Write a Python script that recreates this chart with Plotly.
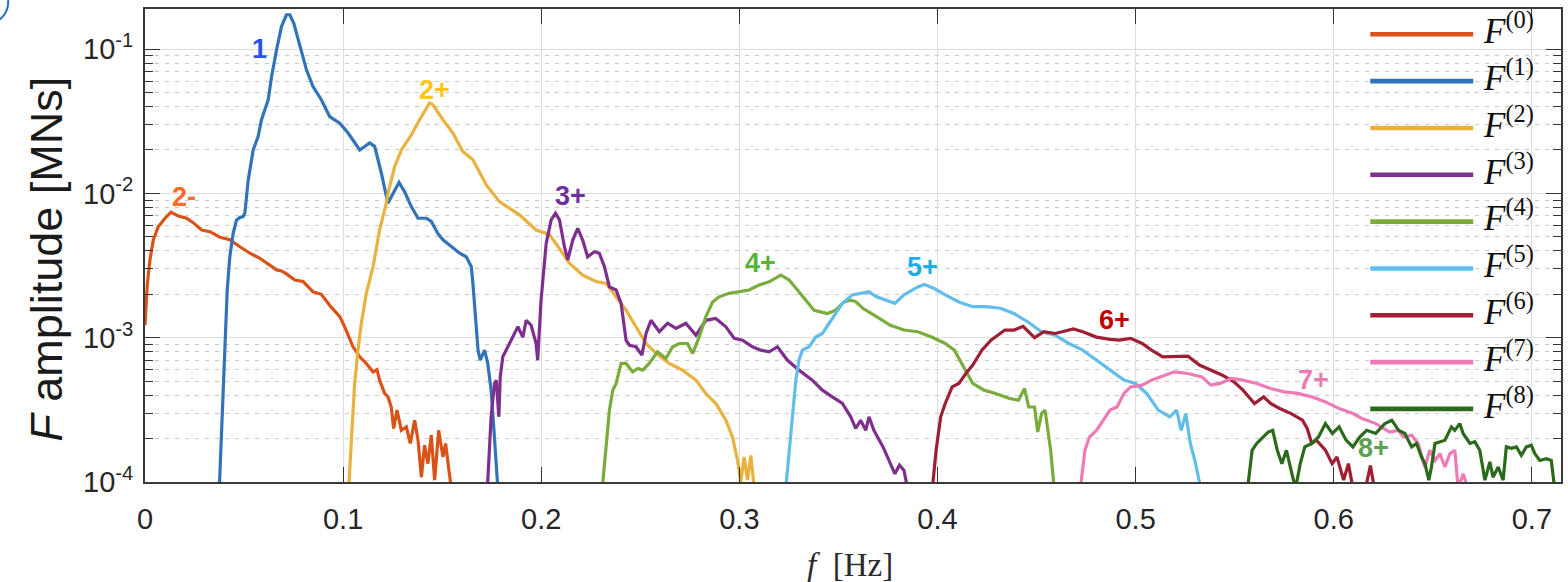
import math
import plotly.graph_objects as go

# Spectral amplitude of each force order F^(k): (frequency [Hz], amplitude [MNs]) pairs
F0_pts = [(0.0, 1.22e-3), (0.0012, 2.38e-3), (0.0025, 3.46e-3), (0.0042, 4.77e-3), (0.0067, 5.88e-3),
          (0.0101, 6.73e-3), (0.0131, 7.41e-3), (0.0168, 6.98e-3), (0.021, 6.73e-3), (0.0243, 6.27e-3),
          (0.0286, 5.58e-3), (0.0328, 5.43e-3), (0.0378, 4.97e-3), (0.0428, 4.77e-3), (0.0479, 4.27e-3),
          (0.0529, 3.85e-3), (0.058, 3.55e-3), (0.063, 3.19e-3), (0.0664, 2.95e-3), (0.0689, 2.9e-3),
          (0.0714, 2.77e-3), (0.0756, 2.51e-3), (0.0798, 2.45e-3), (0.0848, 2.08e-3), (0.089, 2.0e-3),
          (0.0932, 1.68e-3), (0.0983, 1.40e-3), (0.1008, 1.19e-3), (0.105, 8.65e-4), (0.1084, 7.37e-4),
          (0.1117, 6.63e-4), (0.1151, 5.8e-4), (0.1171, 6.0e-4), (0.1184, 5.08e-4), (0.121, 4.1e-4),
          (0.1226, 3.9e-4), (0.1243, 3.31e-4), (0.1255, 2.35e-4), (0.1272, 3.15e-4), (0.1294, 2.28e-4),
          (0.1319, 2.41e-4), (0.1339, 1.85e-4), (0.1361, 2.68e-4), (0.1378, 1.95e-4), (0.1395, 1.08e-4),
          (0.1411, 1.8e-4), (0.1428, 1.34e-4), (0.1445, 2.11e-4), (0.1462, 1.03e-4), (0.1482, 2.28e-4),
          (0.1504, 1.49e-4), (0.1517, 1.85e-4), (0.1546, 9.0e-5)]

F1_pts = [(0.0375, 9e-5), (0.0386, 2.17e-4), (0.0395, 4.82e-4), (0.0403, 1.01e-3), (0.0415, 2.14e-3),
          (0.0428, 3.64e-3), (0.0445, 5.28e-3), (0.0462, 6.55e-3), (0.0479, 6.8e-3), (0.0495, 6.9e-3),
          (0.0504, 7.3e-3), (0.0521, 1.24e-2), (0.0546, 2.0e-2), (0.0571, 2.48e-2), (0.0588, 3.24e-2),
          (0.0622, 4.46e-2), (0.0639, 6.46e-2), (0.0664, 9.9e-2), (0.0689, 0.1435), (0.0714, 0.173),
          (0.0731, 0.173), (0.0751, 0.151), (0.0781, 0.104), (0.0815, 7.18e-2), (0.0848, 5.5e-2),
          (0.089, 4.46e-2), (0.0932, 3.41e-2), (0.0983, 3.07e-2), (0.1025, 2.62e-2), (0.1084, 2.0e-2),
          (0.1134, 2.24e-2), (0.1159, 2.12e-2), (0.1193, 1.38e-2), (0.1226, 8.55e-3), (0.1252, 1.0e-2),
          (0.1282, 1.19e-2), (0.131, 1.03e-2), (0.1344, 8.1e-3), (0.1378, 6.73e-3), (0.142, 6.73e-3),
          (0.1445, 6.4e-3), (0.1478, 5.28e-3), (0.1504, 4.77e-3), (0.1546, 4.27e-3), (0.1588, 3.85e-3),
          (0.1621, 3.64e-3), (0.1647, 3.1e-3), (0.1655, 2.38e-3), (0.1664, 1.55e-3), (0.1681, 8.2e-4),
          (0.1692, 7.0e-4), (0.1714, 8.2e-4), (0.173, 6.63e-4), (0.1747, 4.33e-4), (0.1759, 2.54e-4),
          (0.1772, 1.41e-4), (0.1781, 9e-5)]

F2_pts = [(0.1028, 9e-5), (0.1042, 2.05e-4), (0.1058, 4.82e-4), (0.1075, 8.2e-4), (0.1092, 1.26e-3),
          (0.1117, 2.03e-3), (0.1151, 3.1e-3), (0.1184, 5.58e-3), (0.1218, 8.55e-3), (0.1226, 1.0e-2),
          (0.126, 1.53e-2), (0.1294, 2.0e-2), (0.1344, 2.54e-2), (0.1386, 3.24e-2), (0.1436, 4.23e-2),
          (0.1453, 4.12e-2), (0.1504, 3.24e-2), (0.1554, 2.62e-2), (0.1604, 1.95e-2), (0.1655, 1.71e-2),
          (0.1722, 1.15e-2), (0.1789, 8.77e-3), (0.184, 7.9e-3), (0.189, 7.1e-3), (0.1974, 5.58e-3),
          (0.2041, 5.2e-3), (0.2092, 4.14e-3), (0.2142, 3.28e-3), (0.2209, 2.71e-3), (0.2277, 2.45e-3),
          (0.2327, 2.38e-3), (0.2377, 1.92e-3), (0.2428, 1.55e-3), (0.2478, 1.19e-3), (0.2529, 9.14e-4),
          (0.2579, 7.8e-4), (0.2646, 6.63e-4), (0.2713, 5.95e-4), (0.2781, 5.08e-4), (0.2831, 4.1e-4),
          (0.2881, 3.5e-4), (0.2932, 2.68e-4), (0.2965, 2.05e-4), (0.2991, 1.41e-4), (0.3007, 1.0e-4),
          (0.3024, 1.49e-4), (0.3041, 1.03e-4), (0.3058, 1.53e-4), (0.3075, 9e-5)]

F3_pts = [(0.1728, 9e-5), (0.1747, 2.83e-4), (0.1764, 4.82e-4), (0.1773, 5.08e-4), (0.1786, 2.83e-4),
          (0.1793, 5.35e-4), (0.1806, 7.37e-4), (0.1831, 8.65e-4), (0.1856, 1.01e-3), (0.1882, 1.19e-3),
          (0.1907, 1.01e-3), (0.1924, 1.32e-3), (0.1949, 1.22e-3), (0.1974, 9.12e-4), (0.1982, 7.0e-4),
          (0.1999, 1.82e-3), (0.2025, 4.51e-3), (0.205, 6.55e-3), (0.2072, 7.29e-3), (0.2092, 6.55e-3),
          (0.2117, 4.27e-3), (0.2134, 3.46e-3), (0.2159, 4.75e-3), (0.2184, 5.73e-3), (0.2209, 4.75e-3),
          (0.2234, 3.64e-3), (0.2268, 3.94e-3), (0.2293, 3.85e-3), (0.2319, 3.1e-3), (0.2344, 2.25e-3),
          (0.2378, 2.14e-3), (0.2403, 1.73e-3), (0.2428, 9.62e-4), (0.2445, 8.87e-4), (0.2478, 8.65e-4),
          (0.2508, 7.57e-4), (0.2529, 1.07e-3), (0.2554, 1.32e-3), (0.2596, 1.1e-3), (0.2638, 1.26e-3),
          (0.268, 1.16e-3), (0.273, 1.26e-3), (0.2781, 1.04e-3), (0.2831, 1.32e-3), (0.2881, 1.36e-3),
          (0.2932, 1.19e-3), (0.2974, 9.89e-4), (0.3016, 9.62e-4), (0.3066, 8.65e-4), (0.3108, 8.2e-4),
          (0.315, 7.98e-4), (0.3192, 8.65e-4), (0.3242, 7.0e-4), (0.3301, 5.96e-4), (0.3368, 5.08e-4),
          (0.3419, 4.33e-4), (0.3469, 3.89e-4), (0.352, 3.5e-4), (0.3562, 2.83e-4), (0.3587, 2.35e-4),
          (0.3612, 2.68e-4), (0.3638, 2.28e-4), (0.3654, 2.83e-4), (0.3679, 2.28e-4), (0.3725, 1.75e-4),
          (0.376, 1.34e-4), (0.3785, 1.14e-4), (0.3808, 1.31e-4), (0.3831, 1.2e-4), (0.3849, 9e-5)]

F4_pts = [(0.2308, 9e-5), (0.2327, 1.85e-4), (0.2344, 3.15e-4), (0.2361, 4.33e-4), (0.2378, 4.82e-4),
          (0.2403, 6.63e-4), (0.2428, 6.63e-4), (0.2461, 5.8e-4), (0.2487, 6.12e-4), (0.2512, 5.96e-4),
          (0.2545, 6.63e-4), (0.2587, 7.98e-4), (0.2629, 7.18e-4), (0.2663, 8.65e-4), (0.2697, 9.12e-4),
          (0.2738, 9.12e-4), (0.2764, 7.78e-4), (0.2797, 1.01e-3), (0.2831, 1.4e-3), (0.2865, 1.77e-3),
          (0.2898, 1.92e-3), (0.2948, 2.03e-3), (0.2999, 2.08e-3), (0.3049, 2.14e-3), (0.31, 2.32e-3),
          (0.315, 2.44e-3), (0.3209, 2.72e-3), (0.3251, 2.51e-3), (0.3293, 2.14e-3), (0.3335, 1.82e-3),
          (0.3377, 1.55e-3), (0.3444, 1.47e-3), (0.3486, 1.55e-3), (0.3528, 1.77e-3), (0.3562, 1.82e-3),
          (0.3587, 1.78e-3), (0.3623, 1.6e-3), (0.3692, 1.4e-3), (0.3762, 1.22e-3), (0.3831, 1.13e-3),
          (0.39, 1.1e-3), (0.397, 1.01e-3), (0.4039, 9.12e-4), (0.4085, 8.2e-4), (0.4132, 6.28e-4),
          (0.4178, 4.82e-4), (0.4235, 4.33e-4), (0.4293, 4.11e-4), (0.4363, 3.79e-4), (0.4409, 3.69e-4),
          (0.4439, 4.45e-4), (0.446, 3.31e-4), (0.449, 3.31e-4), (0.4506, 2.22e-4), (0.4525, 2.98e-4),
          (0.4543, 3.15e-4), (0.4571, 1.66e-4), (0.4589, 9e-5)]

F5_pts = [(0.3234, 9e-5), (0.3251, 1.66e-4), (0.3268, 3.15e-4), (0.3285, 5.08e-4), (0.3301, 7.0e-4),
          (0.3318, 8.2e-4), (0.3352, 8.65e-4), (0.3386, 1.01e-3), (0.3419, 1.07e-3), (0.3453, 1.26e-3),
          (0.3486, 1.47e-3), (0.352, 1.73e-3), (0.357, 1.98e-3), (0.3621, 2.05e-3), (0.3654, 2.08e-3),
          (0.3692, 1.92e-3), (0.3738, 1.82e-3), (0.3785, 1.73e-3), (0.3831, 1.98e-3), (0.39, 2.25e-3),
          (0.3935, 2.34e-3), (0.3981, 2.2e-3), (0.4039, 1.98e-3), (0.4108, 1.77e-3), (0.4178, 1.64e-3),
          (0.4247, 1.64e-3), (0.4317, 1.6e-3), (0.4386, 1.47e-3), (0.4455, 1.29e-3), (0.4525, 1.1e-3),
          (0.4594, 1.04e-3), (0.4663, 9.12e-4), (0.4733, 8.2e-4), (0.4802, 7.0e-4), (0.4871, 5.96e-4),
          (0.4941, 5.08e-4), (0.4999, 4.82e-4), (0.5056, 4.11e-4), (0.5114, 3.15e-4), (0.5172, 2.83e-4),
          (0.5207, 3.15e-4), (0.523, 2.28e-4), (0.5253, 2.98e-4), (0.5276, 1.85e-4), (0.5299, 1.41e-4),
          (0.5329, 9e-5)]

F6_pts = [(0.3974, 9e-5), (0.3993, 1.66e-4), (0.4016, 2.83e-4), (0.4039, 3.5e-4), (0.4074, 4.56e-4),
          (0.4108, 4.82e-4), (0.4143, 5.65e-4), (0.4178, 6.46e-4), (0.4224, 8.2e-4), (0.427, 9.62e-4),
          (0.434, 1.13e-3), (0.4386, 1.13e-3), (0.4432, 1.2e-3), (0.449, 1.0e-3), (0.4537, 1.1e-3),
          (0.4594, 1.07e-3), (0.4686, 1.15e-3), (0.4733, 1.1e-3), (0.4802, 1.01e-3), (0.4871, 9.73e-4),
          (0.4917, 9.62e-4), (0.4975, 9.89e-4), (0.5033, 9.12e-4), (0.508, 8.2e-4), (0.5137, 7.37e-4),
          (0.5195, 7.37e-4), (0.5264, 7.45e-4), (0.5322, 6.46e-4), (0.538, 5.96e-4), (0.5438, 5.5e-4),
          (0.5496, 4.94e-4), (0.5542, 4.33e-4), (0.56, 3.5e-4), (0.5646, 3.89e-4), (0.5681, 3.5e-4),
          (0.5727, 3.23e-4), (0.5785, 2.98e-4), (0.5842, 2.68e-4), (0.5866, 2.35e-4), (0.5889, 1.85e-4),
          (0.5912, 1.95e-4), (0.5958, 1.66e-4), (0.5992, 1.34e-4), (0.6016, 1.49e-4), (0.605, 1.03e-4),
          (0.6074, 1.34e-4), (0.6097, 9e-5), (0.616, 9e-5), (0.6185, 1.3e-4), (0.6205, 9e-5)]

F7_pts = [(0.4721, 9e-5), (0.4744, 1.66e-4), (0.4767, 2.05e-4), (0.4802, 2.28e-4), (0.4837, 2.68e-4),
          (0.4871, 3.15e-4), (0.4906, 3.31e-4), (0.4941, 4.11e-4), (0.4975, 4.56e-4), (0.5033, 4.69e-4),
          (0.508, 5.08e-4), (0.5149, 5.5e-4), (0.5195, 5.8e-4), (0.5264, 5.65e-4), (0.5334, 5.35e-4),
          (0.538, 4.69e-4), (0.5426, 4.82e-4), (0.5484, 5.22e-4), (0.5542, 5.08e-4), (0.5611, 4.82e-4),
          (0.5681, 4.45e-4), (0.575, 4.21e-4), (0.5819, 4.11e-4), (0.5889, 3.89e-4), (0.5958, 3.59e-4),
          (0.6027, 3.23e-4), (0.6097, 2.98e-4), (0.6143, 2.75e-4), (0.6212, 2.54e-4), (0.6282, 2.22e-4),
          (0.6326, 2.28e-4), (0.6351, 2.05e-4), (0.6393, 2.11e-4), (0.6426, 1.85e-4), (0.646, 1.27e-4),
          (0.6485, 1.66e-4), (0.6511, 1.41e-4), (0.6536, 1.57e-4), (0.6561, 1.27e-4), (0.6586, 1.57e-4),
          (0.6611, 1.66e-4), (0.6628, 9e-5), (0.6653, 1.14e-4), (0.6678, 9e-5)]

F8_pts = [(0.5565, 9e-5), (0.5588, 1.66e-4), (0.5611, 1.85e-4), (0.5646, 2.05e-4), (0.5669, 2.22e-4),
          (0.5692, 2.28e-4), (0.5715, 1.66e-4), (0.5738, 1.34e-4), (0.5761, 1.66e-4), (0.5785, 1.2e-4),
          (0.5807, 9e-5), (0.5831, 1.34e-4), (0.5854, 1.75e-4), (0.5889, 1.85e-4), (0.5923, 2.05e-4),
          (0.5958, 2.54e-4), (0.5993, 2.17e-4), (0.6027, 2.41e-4), (0.6062, 1.95e-4), (0.6097, 1.75e-4),
          (0.6131, 2.05e-4), (0.6166, 2.28e-4), (0.6212, 2.17e-4), (0.6258, 2.54e-4), (0.6293, 2.68e-4),
          (0.6328, 2.28e-4), (0.6359, 2.17e-4), (0.6393, 1.75e-4), (0.6418, 1.85e-4), (0.6443, 1.49e-4),
          (0.646, 1.34e-4), (0.648, 1.03e-4), (0.6493, 1.27e-4), (0.6511, 1.85e-4), (0.6536, 1.9e-4),
          (0.6561, 1.95e-4), (0.6594, 2.41e-4), (0.6611, 2.28e-4), (0.6636, 2.54e-4), (0.6653, 2.17e-4),
          (0.6687, 1.85e-4), (0.6712, 1.9e-4), (0.6737, 1.66e-4), (0.6763, 1.03e-4), (0.6788, 1.38e-4),
          (0.6804, 1.08e-4), (0.683, 1.27e-4), (0.6855, 1.03e-4), (0.6871, 1.75e-4), (0.6897, 1.71e-4),
          (0.6922, 1.75e-4), (0.6947, 1.53e-4), (0.6972, 1.75e-4), (0.6997, 1.8e-4), (0.7015, 1.57e-4),
          (0.704, 1.41e-4), (0.7073, 1.45e-4), (0.7098, 1.41e-4), (0.7115, 9e-5)]

series = [F0_pts, F1_pts, F2_pts, F3_pts, F4_pts, F5_pts, F6_pts, F7_pts, F8_pts]
line_colors = ["#D95319", "#3272B8", "#E9B23E", "#7E2F8E", "#7AAC3C",
               "#62BDEA", "#9E1F33", "#EE7BB6", "#2B6A1B"]

# Order labels placed next to each spectral peak
peak_labels = ["2-", "1", "2+", "3+", "4+", "5+", "6+", "7+", "8+"]
peak_label_f = [0.0199, 0.0578, 0.146, 0.2146, 0.3108, 0.3925, 0.4894, 0.590, 0.620]
peak_label_amp = [9.5e-3, 0.100, 5.2e-2, 9.6e-3, 3.28e-3, 3.1e-3, 1.32e-3, 5.08e-4, 1.71e-4]
peak_label_colors = ["#FF6A2B", "#2553F0", "#FFC515", "#7030A0", "#58B534",
                     "#1DAEE9", "#C00000", "#E97DB3", "#5E9F50"]

x_tick_vals = [0.0, 0.1, 0.2, 0.3, 0.4, 0.5, 0.6, 0.7]
x_tick_text = ["0", "0.1", "0.2", "0.3", "0.4", "0.5", "0.6", "0.7"]
y_tick_vals = [1e-4, 1e-3, 1e-2, 1e-1]
y_tick_text = ["10<sup>-4</sup>", "10<sup>-3</sup>", "10<sup>-2</sup>", "10<sup>-1</sup>"]
y_minor_vals = [m * 10.0 ** e for e in (-4, -3, -2, -1) for m in range(2, 10)]

fig = go.Figure()
for pts, col in zip(series, line_colors):
    f_vals = [p[0] for p in pts]
    a_vals = [p[1] for p in pts]
    fig.add_trace(go.Scatter(x=f_vals, y=a_vals, mode="lines",
                             line=dict(color=col, width=3.2), showlegend=False,
                             hoverinfo="skip"))

annotations = []
for txt, fx, amp, col in zip(peak_labels, peak_label_f, peak_label_amp, peak_label_colors):
    annotations.append(dict(x=fx, y=math.log10(amp), xref="x", yref="y", text=f"<b>{txt}</b>",
                            xanchor="center", yanchor="middle", showarrow=False,
                            font=dict(family="Liberation Sans", size=27, color=col)))

# Hand-built legend: long line samples with F^(k) labels at the right edge
shapes = []
leg_x0, leg_x1, leg_tx = 0.8653, 0.9380, 0.9436
leg_top, leg_step = 0.9465, 0.0990
for k, col in enumerate(line_colors):
    yk = leg_top - k * leg_step
    shapes.append(dict(type="line", xref="paper", yref="paper", x0=leg_x0, x1=leg_x1, y0=yk, y1=yk,
                       line=dict(color=col, width=4.6)))
    annotations.append(dict(x=leg_tx, y=yk + 0.012, xref="paper", yref="paper", xanchor="left",
                            yanchor="middle", showarrow=False,
                            text=f"<i>F</i><sup>({k})</sup>",
                            font=dict(family="Liberation Serif", size=35, color="#111111")))

# Panel marker partly cut off at the top-left corner
shapes.append(dict(type="circle", xref="paper", yref="paper", x0=-0.1276, x1=-0.0966,
                   y0=0.9683, y1=1.0613, line=dict(color="#2A6FD0", width=2)))

# Axis titles
annotations.append(dict(x=-0.0691, y=0.470, xref="paper", yref="paper", textangle=-90,
                        xanchor="center", yanchor="middle", showarrow=False,
                        text="<i>F</i> amplitude [MNs]",
                        font=dict(family="Liberation Sans", size=45, color="#1a1a1a")))
annotations.append(dict(x=0.498, y=-0.1755, xref="paper", yref="paper", showarrow=False,
                        xanchor="center", yanchor="middle",
                        text="<i>f</i>  [Hz]",
                        font=dict(family="Liberation Serif", size=33, color="#2a2a2a")))

axis_common = dict(showline=True, linecolor="#3a3a3a", linewidth=1.6, mirror="ticks",
                   ticks="inside", ticklen=15, tickwidth=1.3, tickcolor="#333333",
                   showgrid=True, gridcolor="#dddddd", gridwidth=1, zeroline=False,
                   tickfont=dict(family="Liberation Sans", size=29, color="#262626"))

fig.update_layout(
    width=1568, height=582,
    margin=dict(l=145, r=5, t=9, b=100),
    paper_bgcolor="white", plot_bgcolor="white",
    showlegend=False,
    shapes=shapes, annotations=annotations,
    xaxis=dict(range=[0, 0.7147], tickmode="array", tickvals=x_tick_vals, ticktext=x_tick_text,
               ticklabelstandoff=10, **axis_common),
    yaxis=dict(type="log", range=[-4, -0.722], tickmode="array", tickvals=y_tick_vals,
               ticktext=y_tick_text, ticklabelstandoff=4,
               minor=dict(tickmode="array", tickvals=y_minor_vals, ticks="inside", ticklen=8,
                          tickwidth=1.2, tickcolor="#333333", showgrid=True,
                          gridcolor="#c9c9c9", griddash="4px,6px", gridwidth=1),
               **axis_common),
)

fig.write_html("out.html")
